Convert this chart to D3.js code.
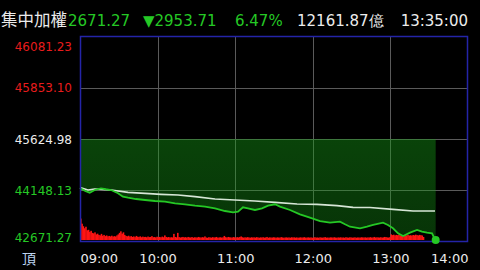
<!DOCTYPE html>
<html>
<head>
<meta charset="utf-8">
<script src="https://cdn.jsdelivr.net/npm/d3@7"></script>
<style>
  html, body { margin: 0; padding: 0; background: #000; }
  svg { display: block; }
</style>
</head>
<body>
<script>
// index values (minutes after 09:00, value)
const priceMin = [0, 4, 7.5, 11.4, 16.2, 20, 24, 29.4, 33.2, 37.1, 43.3, 50.3, 58, 65.7, 73.5, 81.2, 88.9, 96.7, 104.4, 112.1, 118.3, 122.2, 126, 129.9, 135.3, 140.7, 145.4, 150.8, 154.6, 162.4, 170.1, 177.8, 185.6, 193.3, 201, 204.9, 208.8, 216.5, 221.9, 226.6, 234.3, 238.1, 242, 245.9, 249.8, 255.2, 260.6, 264.4, 268.3, 272.2, 275];
const priceVal = [44206, 44120, 44070, 44148, 44197, 44170, 44148, 44053, 43954, 43925, 43887, 43859, 43830, 43809, 43763, 43734, 43693, 43665, 43618, 43540, 43502, 43520, 43647, 43618, 43569, 43618, 43693, 43734, 43665, 43569, 43444, 43346, 43250, 43201, 43230, 43155, 43085, 43039, 43085, 43135, 43201, 43135, 43039, 42894, 42816, 42912, 42990, 42941, 42912, 42894, 42671.27];

const avgMin = [0, 6.2, 11.4, 24, 37.1, 50.3, 62.6, 75.8, 88.9, 104.4, 119.8, 135.3, 150.8, 167.8, 183.2, 198.7, 211.1, 224.2, 242, 257.5, 274.5];
const avgVal = [44215, 44148, 44177, 44148, 44081, 44052, 44024, 44003, 43954, 43887, 43859, 43830, 43792, 43743, 43734, 43693, 43647, 43641, 43589, 43540, 43540];

// volume per minute from 09:00
const volume = [
  210,160,135,115,130,95,100,80,90,70,
  65,75,55,62,50,45,60,42,50,38,
  45,36,40,35,42,33,38,34,45,55,
  70,85,62,75,50,40,36,42,33,38,
  30,35,28,40,32,30,36,27,33,29,
  31,26,34,28,30,38,27,29,25,32,
  28,30,26,33,27,45,30,26,29,24,
  27,25,60,30,26,70,28,24,27,30,
  25,28,23,30,26,24,29,22,27,25,
  24,30,26,23,28,25,35,24,22,27,
  25,23,28,24,26,30,22,25,27,23,
  26,40,28,24,30,27,25,23,29,26,
  24,28,25,30,35,27,23,26,24,28,
  25,22,27,24,26,23,28,25,22,26,
  24,27,23,25,30,22,26,24,23,27,
  25,22,26,24,23,28,25,22,24,26,
  23,25,22,27,24,26,23,25,22,24,
  26,23,25,28,22,24,26,23,25,22,
  24,27,23,25,22,26,24,23,25,28,
  23,24,22,26,25,23,27,24,22,25,
  24,26,23,25,22,27,24,23,26,25,
  23,24,26,22,25,24,23,27,25,24,
  26,23,25,24,28,23,25,30,24,26,
  25,24,27,23,26,30,28,25,24,27,
  55,48,52,45,50,47,53,44,49,46,
  42,48,45,50,44,47,43,49,46,52,
  48,45,50,47,44,30
];

const yTicks = [46081.23, 45853.10, 45624.98, 44148.13, 42671.27];
const refPrice = 45624.98;
const timeTicks = [0, 60, 120, 180, 240, 300];
const timeLabels = ["09:00", "10:00", "11:00", "12:00", "13:00", "14:00"];

const title = "集中加權";
const lastText = "2671.27";
const changeText = "▼2953.71";
const pctText = "6.47%";
const amountText = "12161.87億";
const clockText = "13:35:00";

const W = 480, H = 270;
const L = 80, R = 468, T = 36, B = 241;

const svg = d3.select("body").append("svg")
  .attr("width", W).attr("height", H)
  .style("background", "#000");

const x = d3.scaleLinear().domain([0, 300]).range([L, R]);
const y = d3.scaleLinear().domain([42671.27, refPrice, 46081.23]).range([B, 139, T]);
const yVol = d3.scaleLinear().domain([0, 500]).range([B - 1, B - 52]);

const GREEN = "#25c825", RED = "#e81c1c", WHITE = "#ececec";

// grid
const grid = svg.append("g").attr("stroke", "#5a5a5a").attr("stroke-width", 1);
grid.selectAll(".h").data(yTicks.slice(1, 4)).enter().append("line")
  .attr("x1", L).attr("x2", R)
  .attr("y1", d => Math.round(y(d)) + 0.5).attr("y2", d => Math.round(y(d)) + 0.5);
grid.selectAll(".v").data(timeTicks.slice(1, 5)).enter().append("line")
  .attr("y1", T).attr("y2", B)
  .attr("x1", d => Math.round(x(d)) + 0.5).attr("x2", d => Math.round(x(d)) + 0.5);

// green fill between reference and price
const defs = svg.append("defs");
const grad = defs.append("linearGradient").attr("id", "gf")
  .attr("x1", 0).attr("y1", 0).attr("x2", 0).attr("y2", 1);
grad.append("stop").attr("offset", "0%").attr("stop-color", "#16a016").attr("stop-opacity", 0.42);
grad.append("stop").attr("offset", "100%").attr("stop-color", "#16a016").attr("stop-opacity", 0.32);

const pricePts = priceMin.map((m, i) => [m, priceVal[i]]);
svg.append("path")
  .datum(pricePts)
  .attr("fill", "url(#gf)")
  .attr("d", d3.area().x(d => x(d[0])).y0(y(refPrice)).y1(d => y(d[1])));

// volume bars
svg.append("g").selectAll("rect").data(volume).enter().append("rect")
  .attr("x", (d, i) => x(i))
  .attr("width", x(1) - x(0) + 0.3)
  .attr("y", d => yVol(d))
  .attr("height", d => yVol(0) - yVol(d))
  .attr("fill", "#ff1414");

// average line
svg.append("path")
  .datum(avgMin.map((m, i) => [m, avgVal[i]]))
  .attr("fill", "none")
  .attr("stroke", "#d6e6d6")
  .attr("stroke-width", 1.7)
  .attr("d", d3.line().x(d => x(d[0])).y(d => y(d[1])));

// price line
svg.append("path")
  .datum(pricePts)
  .attr("fill", "none")
  .attr("stroke", GREEN)
  .attr("stroke-width", 1.8)
  .attr("d", d3.line().x(d => x(d[0])).y(d => y(d[1])));

// frame
svg.append("rect")
  .attr("x", L + 0.5).attr("y", T + 0.5)
  .attr("width", R - L - 1).attr("height", B - T)
  .attr("fill", "none").attr("stroke", "#2424a8").attr("stroke-width", 1.5);

// last point
const last = pricePts[pricePts.length - 1];
svg.append("circle")
  .attr("cx", x(last[0])).attr("cy", y(last[1]) - 1)
  .attr("r", 4).attr("fill", GREEN);

// y labels
const yAxis = svg.append("g")
  .attr("transform", `translate(${L},0)`)
  .call(d3.axisLeft(y).tickValues(yTicks).tickSize(0).tickPadding(8)
    .tickFormat(d3.format(".2f")));
yAxis.select(".domain").remove();
yAxis.selectAll("text")
  .attr("font-family", "DejaVu Sans")
  .attr("font-size", 12)
  .attr("fill", d => d > refPrice ? RED : d < refPrice ? GREEN : WHITE)
  .attr("dy", (d, i) => i === 0 ? "1.2em" : i === yTicks.length - 1 ? "0.05em" : "0.35em");

// time labels
const xAxis = svg.append("g")
  .attr("transform", `translate(0,${B})`)
  .call(d3.axisBottom(x).tickValues(timeTicks).tickSize(0).tickPadding(13)
    .tickFormat((d, i) => timeLabels[i]));
xAxis.select(".domain").remove();
xAxis.selectAll("text")
  .attr("font-family", "DejaVu Sans")
  .attr("font-size", 13)
  .attr("fill", WHITE)
  .attr("text-anchor", (d, i) => i === 0 ? "start" : i === timeTicks.length - 1 ? "end" : "middle");

svg.append("text")
  .attr("x", 29).attr("y", 264)
  .attr("text-anchor", "middle")
  .attr("font-family", "Noto Sans CJK TC")
  .attr("font-size", 14)
  .attr("fill", "#bcd4f0")
  .text("頂");

// header
const head = svg.append("g").attr("font-family", "DejaVu Sans").attr("font-size", 15);
head.append("text").attr("x", 1).attr("y", 26)
  .attr("font-family", "Noto Sans CJK TC").attr("font-size", 16.5)
  .attr("fill", WHITE).text(title);
head.append("text").attr("x", 68).attr("y", 26).attr("fill", GREEN).text(lastText);
head.append("text").attr("x", 143).attr("y", 26).attr("fill", GREEN).text(changeText);
head.append("text").attr("x", 235).attr("y", 26).attr("fill", GREEN).text(pctText);
head.append("text").attr("x", 297).attr("y", 26).attr("fill", WHITE).text(amountText);
head.append("text").attr("x", 468).attr("y", 26).attr("text-anchor", "end").attr("fill", WHITE).text(clockText);
</script>
</body>
</html>
